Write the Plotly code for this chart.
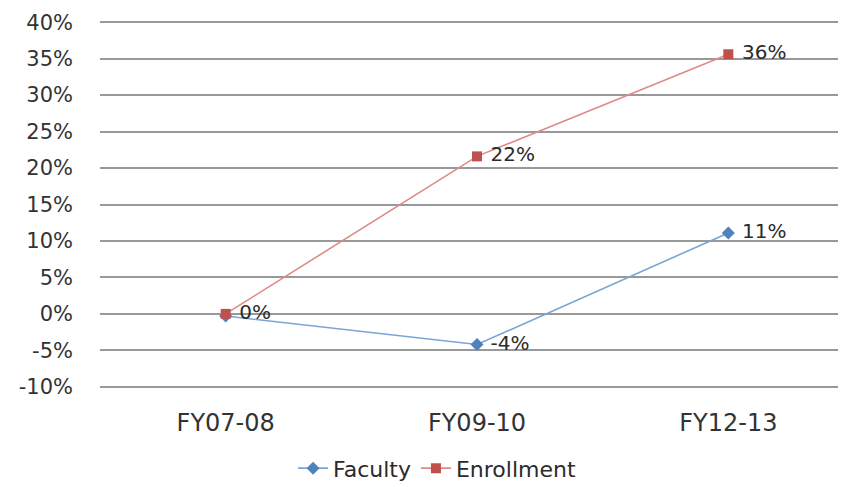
import plotly.graph_objects as go

# chart data
years = ["FY07-08", "FY09-10", "FY12-13"]
faculty = [-0.3, -4.2, 11.1]
enrollment = [0.0, 21.6, 35.6]
faculty_labels = ["", " -4%", " 11%"]
enrollment_labels = [" 0%", " 22%", " 36%"]
y_ticks = [-10, -5, 0, 5, 10, 15, 20, 25, 30, 35, 40]

FONT = "DejaVu Sans"

fig = go.Figure()

fig.add_trace(go.Scatter(x=years, y=faculty,
                         mode="lines+markers+text",
                         name="Faculty",
                         line=dict(color="#7BA3D6", width=1.6),
                         marker=dict(symbol="diamond", size=10, color="#4F81BD"),
                         text=faculty_labels,
                         textposition="middle right",
                         textfont=dict(size=20, color="#2b2b2b", family=FONT)))

fig.add_trace(go.Scatter(x=years, y=enrollment,
                         mode="lines+markers+text",
                         name="Enrollment",
                         line=dict(color="#E08A87", width=1.6),
                         marker=dict(symbol="square", size=10, color="#C0504D"),
                         text=enrollment_labels,
                         textposition="middle right",
                         textfont=dict(size=20, color="#2b2b2b", family=FONT)))

# page is drawn with an 8px body margin, so margins are shifted to compensate
fig.update_layout(width=846, height=487,
                  margin=dict(l=92, r=0, t=12, b=106),
                  paper_bgcolor="white",
                  plot_bgcolor="white",
                  font=dict(family=FONT, size=21, color="#333333"),
                  legend=dict(orientation="h", x=0.447, xanchor="center",
                              y=-0.215, yanchor="middle",
                              font=dict(size=22, color="#2b2b2b"), itemwidth=30,
                              tracegroupgap=0))

fig.update_xaxes(range=[-0.5, 2.5], showgrid=False, showline=False,
                 zeroline=False, ticks="", ticklabelstandoff=17,
                 tickfont=dict(size=24), automargin=False)

fig.update_yaxes(range=[-10.3, 40.3], tickvals=y_ticks,
                 ticktext=[f"{v}%" for v in y_ticks],
                 showgrid=True, gridcolor="#999999", gridwidth=1.6,
                 zeroline=False, showline=False, ticks="",
                 ticklabelstandoff=26, automargin=False)

fig.write_html("out.html")
